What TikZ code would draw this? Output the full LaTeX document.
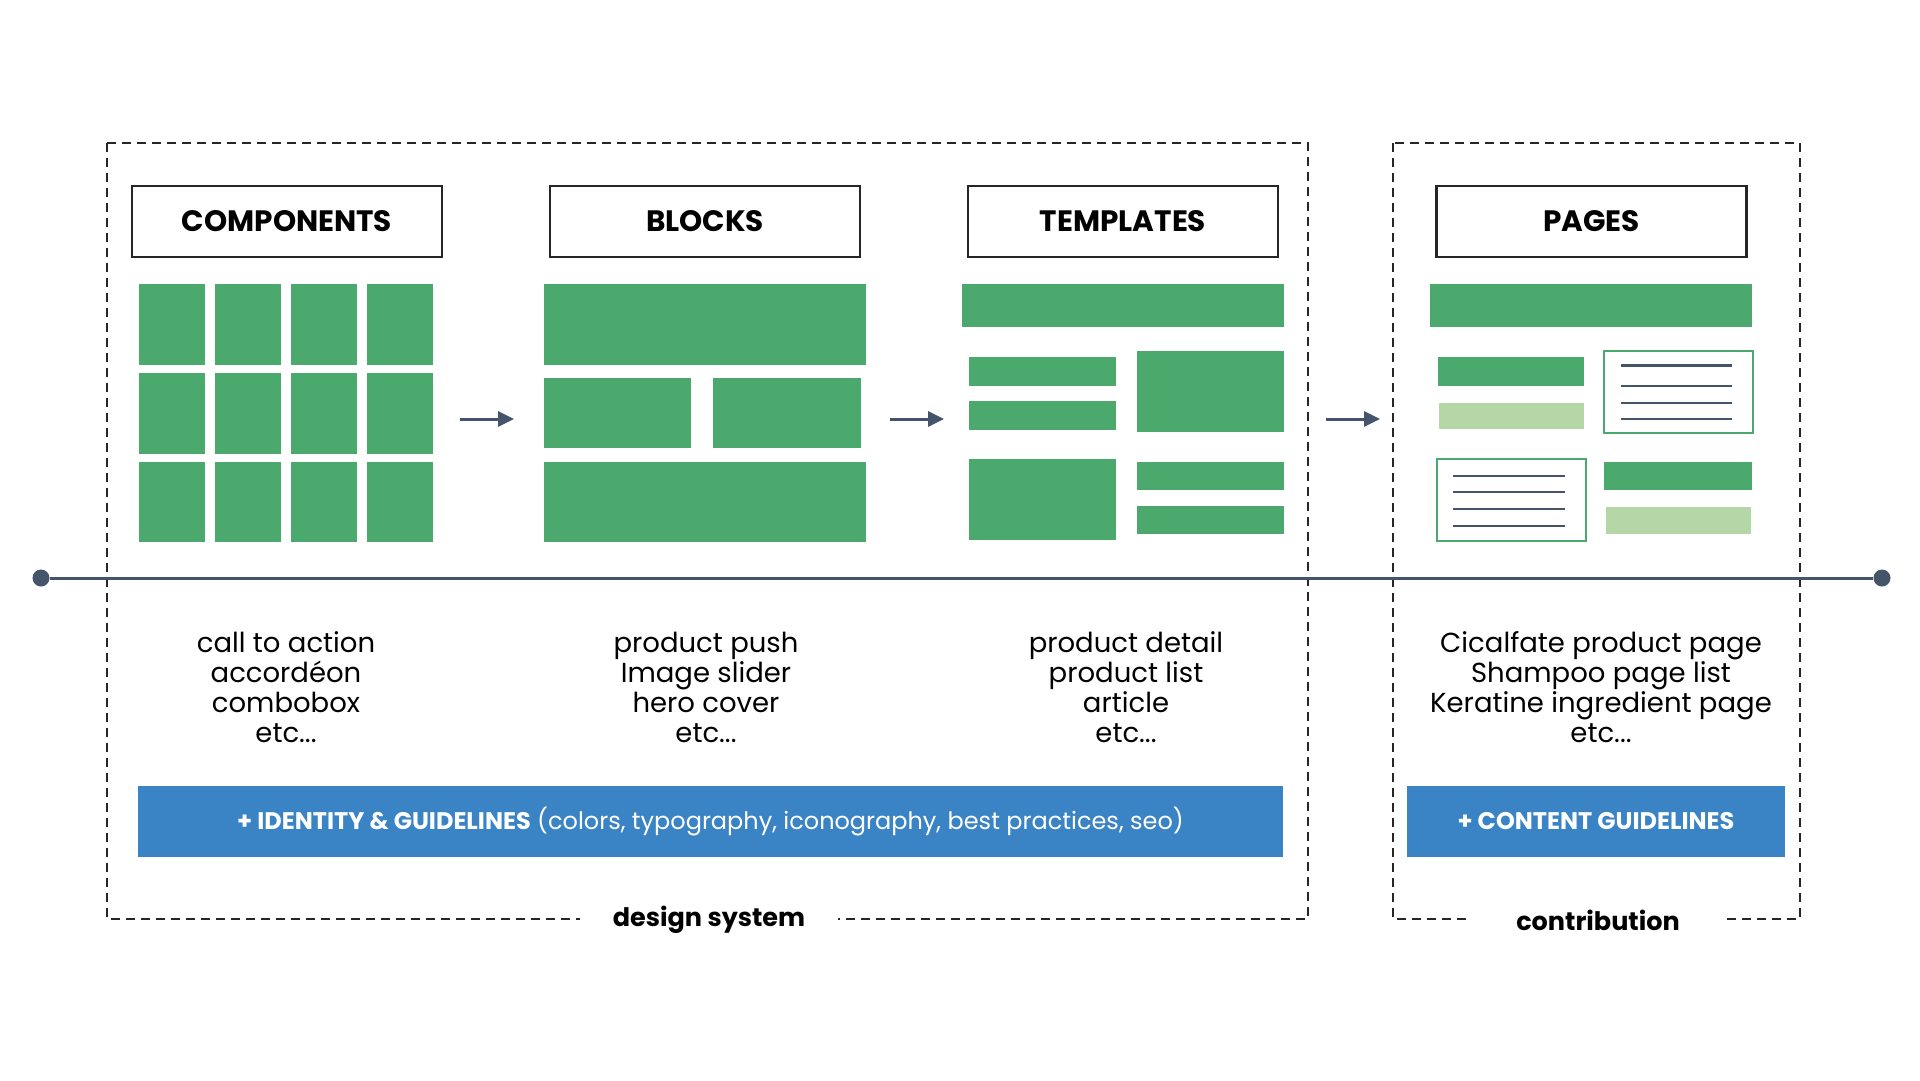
\documentclass[tikz,border=0pt]{standalone}
\usepackage{fontspec}
\setmainfont{Poppins}
\usetikzlibrary{arrows.meta}
\definecolor{grn}{RGB}{75,169,110}
\definecolor{lgrn}{RGB}{181,214,167}
\definecolor{blu}{RGB}{58,132,198}
\definecolor{slate}{RGB}{68,84,106}
\newcommand\grect[4]{\fill[grn] (#1,#2) rectangle (#3,#4);}
\newcommand\lrect[4]{\fill[lgrn] (#1,#2) rectangle (#3,#4);}
\begin{document}
\begin{tikzpicture}[x=1pt,y=-1pt,
  head/.style={draw=black!85, line width=2.5pt, fill=white, minimum width=310pt, minimum height=71pt, inner sep=0pt, font=\fontsize{29.5}{33}\selectfont\bfseries},
  dbox/.style={draw=black!85, line width=2pt, dash pattern=on 9pt off 6pt},
  flow/.style={draw=slate, line width=3pt, -{Triangle[length=16pt,width=15pt]}},
  body/.style={align=center, inner sep=0pt, font=\fontsize{27.5}{30}\selectfont},
  bar/.style={fill=blu, text=white, inner sep=0pt, font=\fontsize{24}{28}\selectfont},
  outl/.style={draw=grn, line width=2pt, fill=white},
  txtline/.style={draw=slate, line width=2pt},
  dot/.style={circle, fill=slate, minimum size=17pt, inner sep=0pt},
  grplabel/.style={fill=white, inner ysep=2pt, font=\fontsize{25.5}{30}\selectfont\bfseries}
]
\useasboundingbox[fill=white] (0,0) rectangle (1920,1080);

% dashed group boxes
\draw[dbox] (107,143) rectangle (1308,919);
\draw[dbox] (1393,143) rectangle (1800,919);

% headings
\node[head] (comp) at (287,221.5) {COMPONENTS};
\node[head] (blocks) at (705,221.5) {BLOCKS};
\node[head] (templ) at (1123,221.5) {TEMPLATES};
\node[head] (pages) at (1591.5,221.5) {PAGES};

% components grid
\foreach \cx in {139,215,291,367}{
  \grect{\cx}{284}{\cx+66}{365}
  \grect{\cx}{373}{\cx+66}{454}
  \grect{\cx}{462}{\cx+66}{542}
}

% blocks
\grect{544}{284}{866}{365}
\grect{544}{378}{691}{448}
\grect{713}{378}{861}{448}
\grect{544}{462}{866}{542}

% templates
\grect{962}{284}{1284}{327}
\grect{969}{357}{1116}{386}
\grect{969}{401}{1116}{430}
\grect{1137}{351}{1284}{432}
\grect{969}{459}{1116}{540}
\grect{1137}{462}{1284}{490}
\grect{1137}{506}{1284}{534}

% pages
\grect{1430}{284}{1752}{327}
\grect{1438}{357}{1584}{386}
\lrect{1439}{403}{1584}{429}
\draw[outl] (1604,351) rectangle (1753,433);
\draw[txtline, line width=3pt] (1621,365) -- (1732,365);
\draw[txtline] (1621,386) -- (1732,386);
\draw[txtline] (1621,403) -- (1732,403);
\draw[txtline] (1621,419) -- (1732,419);
\draw[outl] (1437,459) rectangle (1586,541);
\draw[txtline] (1453,476) -- (1565,476);
\draw[txtline] (1453,492) -- (1565,492);
\draw[txtline] (1453,509) -- (1565,509);
\draw[txtline] (1453,526) -- (1565,526);
\grect{1604}{462}{1752}{490}
\lrect{1606}{507}{1751}{534}

% arrows between stages
\coordinate (a1s) at (460,419); \coordinate (a1e) at (514,419);
\coordinate (a2s) at (890,419); \coordinate (a2e) at (944,419);
\coordinate (a3s) at (1326,419); \coordinate (a3e) at (1380,419);
\draw[flow] (a1s) -- (a1e);
\draw[flow] (a2s) -- (a2e);
\draw[flow] (a3s) -- (a3e);

% timeline
\node[dot] (ldot) at (41,578) {};
\node[dot] (rdot) at (1882,578) {};
\draw[slate, line width=3pt] (ldot) -- (rdot);

% examples
\node[body] (ex1) at (286,687) {call to action\\accordéon\\combobox\\etc...};
\node[body] (ex2) at (706,687) {product push\\Image slider\\hero cover\\etc...};
\node[body] (ex3) at (1126,687) {product detail\\product list\\article\\etc...};
\node[body] (ex4) at (1601,687) {Cicalfate product page\\Shampoo page list\\Keratine ingredient page\\etc...};

% guideline bars
\node[bar, minimum width=1145pt, minimum height=71pt] (idg) at (710.5,821.5) {\textbf{+ IDENTITY \& GUIDELINES} (colors, typography, iconography, best practices, seo)};
\node[bar, minimum width=378pt, minimum height=71pt] (cg) at (1596,821.5) {\textbf{+ CONTENT GUIDELINES}};

% group labels
\node[grplabel, inner xsep=33pt] (ds) at (709,920) {design system};
\node[grplabel, inner xsep=46pt] (contrib) at (1598,920) {contribution};
\end{tikzpicture}
\end{document}
